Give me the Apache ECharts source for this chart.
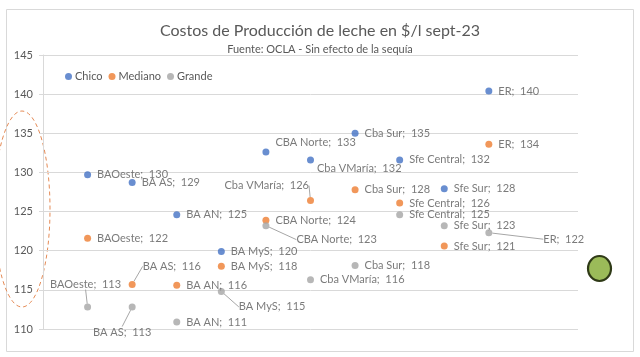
<!DOCTYPE html>
<html><head><meta charset="utf-8">
<script src="https://cdn.jsdelivr.net/npm/echarts@6/dist/echarts.min.js"></script>
<style>html,body{margin:0;padding:0;background:#fff}#c{width:640px;height:357px}</style>
</head><body><div id="c"></div>
<script>
const categories = ['BAOeste','BA AS','BA AN','BA MyS','CBA Norte','Cba VMaría','Cba Sur','Sfe Central','Sfe Sur','ER'];
const chico   = [129.7,128.7,124.6,119.9,132.6,131.6,135.0,131.6,127.9,140.4];
const mediano = [121.6,115.7,115.6,118.0,123.9,126.4,127.8,126.1,120.6,133.6];
const grande  = [112.8,112.8,110.9,114.8,123.2,116.3,118.1,124.6,123.2,122.3];
const seriesNames = ['Chico','Mediano','Grande'];
const yTicks = {min:110, max:145, step:5};

const colors = ['#4472C4','#ED7D31','#A5A5A5'];
const FONT = 'Lato';
// label adjustments (style only): [position, dx, dy, leaderLine]
const labelAdj = {
  0: { 'CBA Norte':['right',0,-10,false], 'Cba VMaría':['right',-3,8.5,false] },
  1: { 'Cba VMaría':['left',8,-15,true], 'BA AS':['right',1,-18,true] },
  2: { 'CBA Norte':['right',21,14,true], 'BAOeste':['top',-2,-8,true], 'BA AS':['bottom',-10,10,true],
       'BA MyS':['right',8,15.5,true], 'ER':['right',45,6.5,true] }
};

function build(vals, si){
  return vals.map((v,i)=>{
    const adj = (labelAdj[si]||{})[categories[i]];
    const item = {name: categories[i], value:[i+1, v]};
    if(adj){
      item.label = {position: adj[0]};
      item.labelLine = {show: adj[3]};
    }
    return item;
  });
}

const chart = echarts.init(document.getElementById('c'), null, {renderer:'canvas'});
const series = [chico, mediano, grande].map((vals, si)=>({
  name: seriesNames[si],
  type:'scatter',
  symbol:'circle',
  symbolSize:7,
  itemStyle:{color:colors[si]},
  data: build(vals, si),
  label:{show:true, position:'right', distance:6, color:'#595959', fontSize:11, fontFamily:FONT,
    formatter: p => p.name + ';  ' + Math.round(p.value[1])},
  labelLine:{show:false, lineStyle:{color:'#A6A6A6', width:1}},
  labelLayout: function(params){
    const adj = (labelAdj[si]||{})[categories[params.dataIndex]];
    if(!adj) return {};
    return {dx: adj[1], dy: adj[2]};
  },
  emphasis:{disabled:true}
}));

chart.setOption({
  animation:false,
  textStyle:{fontFamily:FONT},
  title:{text:'Costos de Producción de leche en $/l sept-23', subtext:'Fuente: OCLA - Sin efecto de la sequía',
    left:'center', top:18, itemGap:5,
    textStyle:{fontSize:16, fontWeight:'normal', color:'#595959', fontFamily:FONT},
    subtextStyle:{fontSize:11, color:'#595959', fontFamily:FONT}},
  legend:{left:60, top:66, icon:'circle', itemWidth:7, itemHeight:7, itemGap:6,
    textStyle:{fontSize:11, color:'#595959', fontFamily:FONT, padding:[0,0,0,-2]},
    data:seriesNames},
  grid:{left:43, right:62, top:55, bottom:28, containLabel:false},
  xAxis:{type:'value', min:0, max:12, show:false},
  yAxis:{type:'value', min:yTicks.min, max:yTicks.max, interval:yTicks.step,
    axisLine:{show:true, lineStyle:{color:'#D9D9D9'}},
    axisTick:{show:true, length:4, lineStyle:{color:'#D9D9D9'}},
    axisLabel:{color:'#595959', fontSize:11, fontFamily:FONT, margin:10},
    splitLine:{lineStyle:{color:'#D9D9D9'}}},
  graphic:[
    {type:'rect', shape:{x:6.5, y:9.5, width:627, height:342}, style:{fill:null, stroke:'#D9D9D9', lineWidth:1}, silent:true, z:-1},
    {type:'ellipse', shape:{cx:22, cy:209, rx:28, ry:98}, style:{fill:null, stroke:'#E48A55', lineWidth:1, lineDash:[4,3]}, silent:true},
    {type:'ellipse', shape:{cx:599.5, cy:268.5, rx:11.5, ry:12.5}, style:{fill:'#9BBB59', stroke:'#2F3A17', lineWidth:2.2}, silent:true}
  ],
  series: series
});
</script></body></html>
